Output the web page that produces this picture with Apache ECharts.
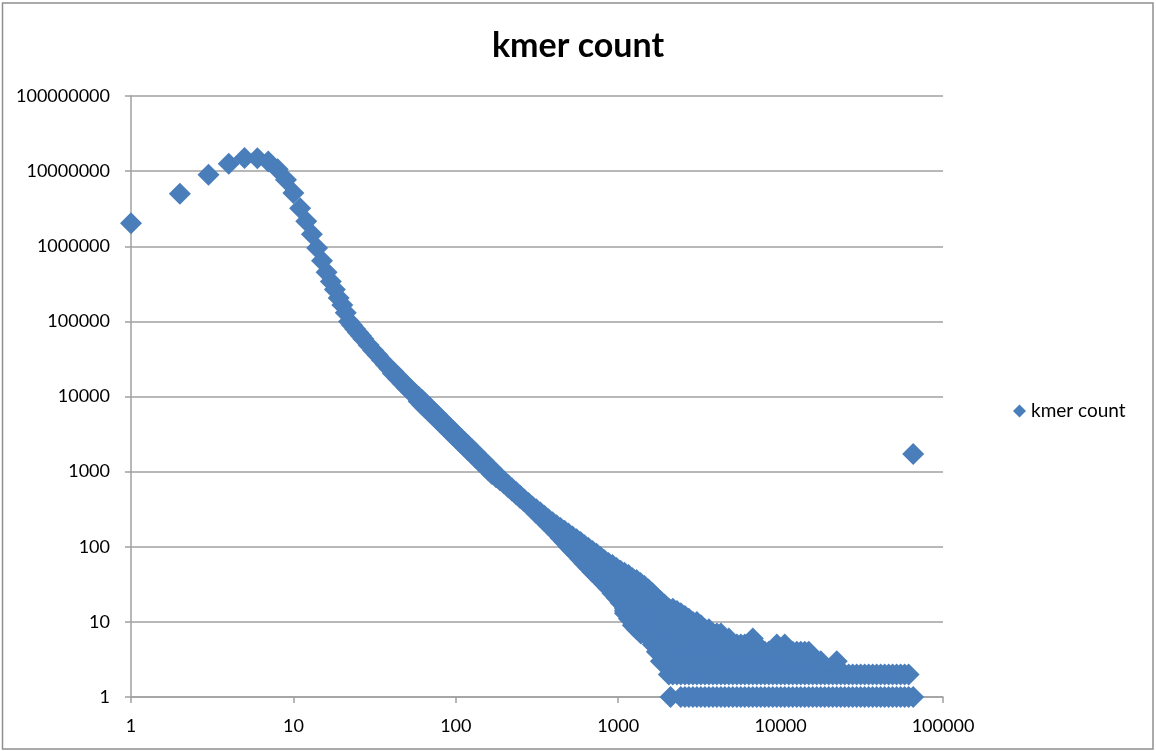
<!DOCTYPE html>
<html><head><meta charset="utf-8">
<script src="https://cdn.jsdelivr.net/npm/echarts/dist/echarts.min.js"></script>
<style>html,body{margin:0;padding:0;background:#fff}#c{width:1156px;height:751px}</style>
</head><body><div id="c"></div>
<script>
// ---- data ----
const headX = [1,2,3,4,5,6,7,8,9,10,11,12,13,14,15,16,17,18,19,20,21];
const headY = [2030000,4990000,8930000,12500000,14900000,14800000,13400000,10600000,7700000,5100000,3200000,2150000,1450000,950000,640000,450000,340000,265000,205000,165000,130000];

const bandX = [22,23,24,25,26,27,29,31,33,35,37,39,41,44,47,50,53,56,59,62,65,69,73,77,81,86,91,96,101,107,113,119,126,133,141,149,158,167,177,187,198,210,222,235,249,264,280,296,313,332,351,372,394,417,441,467,494,523,554,586,620,656,694,735,778,823,871,922,976,1033,1093,1157,1224,1296,1371,1451,1536,1625,1720,1820,1926,2038];
const bandHi = [100000,88700,79300,71200,64200,58300,48600,41100,35300,30500,26750,23600,21700,18500,15980,13950,12300,10930,9960,8950,8090,7120,6310,5630,5050,4450,3940,3510,3150,2790,2480,2220,1965,1750,1545,1370,1210,1072,947,842,745,665,597,535,479,427,382,343,315,285,258,233,212,194,178,163,150,137,126,116,105,96,88,81,73,66,61,57,52,48,45,42,38,36,33,30,27,24,21,19,17,15];
const bandLo = [100000,88700,79300,71200,64200,58300,48600,41100,35300,30500,26750,23600,20300,17300,14920,13020,11480,10200,8670,7790,7040,6190,5490,4900,4400,3870,3430,3055,2740,2425,2155,1930,1710,1520,1345,1195,1050,933,844,768,696,621,557,500,447,399,357,320,280,248,220,194,172,151,132,116,101,89,78,68,60,53,46,41,36,32,28,24,21,18,16,14,12,10,9,8,7,6,6,5,5,4];

const midX  = [554,586,620,656,694,735,778,823,871,922,976,1033,1093,1157,1224,1296,1371,1451,1536,1625,1720,1820,1926,2038];
const midHi = [107,97,87,79,71,64,58,52,47,43,39,35,32,29,26,24,21,19,17,15,14,12,11,10];
const midLo = [91,81,73,65,57,51,46,41,36,32,28,25,22,20,18,16,14,12,11,10,9,8,7,6];

// x positions used in the integer-count tail
const tailGrid = [1100,1165,1230,1300,1380,1460,1545,1635,1730,1830,1940,2050,2170,2300,2430,2575,2725,2885,3050,3230,3420,3620,3830,4050,4290,4540,4800,5080,5380,5690,6020,6370,6745,7140,7555,7995,8460,8955,9475,10030,10610,11230,11885,12580,13310,14090,14910,15780,16700,17670,18700,19790,20945,22165,23460,24825,26270,27800,29420,31135,32950,34870,36900,39050,41325,43730,46280,48975,51830,54850,58040,61420,65535];
// [count, first x, last x]
const tailRows = [[1,2430,65535],[2,2050,61420],[3,1830,17670],[4,1730,14910],[5,1635,7140],[6,1545,4800],[7,1380,4290],[8,1300,3620],[9,1230,3230],[10,1230,3050],[11,1165,2725],[12,1165,2575],[13,1100,2430],[14,1100,2300],[15,1100,2170]];
const tailExtraX = [2100,22165,9475,10610,6745,65535];
const tailExtraY = [1,3,5,5,6,1722];

const xTicks = [1,10,100,1000,10000,100000];
const yTicks = [1,10,100,1000,10000,100000,1000000,10000000,100000000];

// ---- build series data ----
const pts = [];
headX.forEach((x,i)=>pts.push([x,headY[i]]));
bandX.forEach((x,i)=>{pts.push([x,bandHi[i]]); if(bandLo[i]!==bandHi[i]) pts.push([x,bandLo[i]]);});
midX.forEach((x,i)=>{pts.push([x,midHi[i]]); pts.push([x,midLo[i]]);});
tailRows.forEach(r=>{tailGrid.forEach(x=>{ if(x>=r[1] && x<=r[2]) pts.push([x,r[0]]); });});
tailExtraX.forEach((x,i)=>pts.push([x,tailExtraY[i]]));

const gridCol = '#a0a0a0';
const fmt = v => String(Math.round(v));
const chart = echarts.init(document.getElementById('c'));
chart.setOption({
  animation:false,
  backgroundColor:'#fff',
  graphic:[{type:'rect', shape:{x:2.5,y:3,width:1150.5,height:746}, style:{fill:'none', stroke:'#8e8e8e', lineWidth:1.5}, silent:true}],
  title:{text:'kmer count', left:'center', top:24, textStyle:{fontFamily:'Lato', fontWeight:'bold', fontSize:34, color:'#000'}},
  legend:{data:[{name:'kmer count', icon:'diamond'}], left:1008, top:396, itemWidth:13, itemHeight:13, selectedMode:false,
    textStyle:{fontFamily:'Lato', fontSize:19, lineHeight:20, color:'#000'}},
  grid:{left:131, right:213, top:96, bottom:54, containLabel:false},
  xAxis:{type:'log', logBase:10, min:xTicks[0], max:xTicks[xTicks.length-1], splitNumber:5,
    axisLine:{show:true, lineStyle:{color:gridCol, width:1.5}},
    axisTick:{show:true, length:6, lineStyle:{color:gridCol, width:1.5}},
    minorTick:{show:false}, splitLine:{show:false},
    axisLabel:{margin:20, fontFamily:'Lato', fontSize:18, color:'#000', formatter:fmt}},
  yAxis:{type:'log', logBase:10, min:yTicks[0], max:yTicks[yTicks.length-1], splitNumber:8,
    axisLine:{show:true, lineStyle:{color:gridCol, width:1.5}},
    axisTick:{show:true, length:6, lineStyle:{color:gridCol, width:1.5}},
    minorTick:{show:false}, splitLine:{show:true, lineStyle:{color:gridCol, width:1.5}},
    axisLabel:{margin:21, fontFamily:'Lato', fontSize:18, color:'#000', formatter:fmt}},
  series:[{type:'scatter', name:'kmer count', symbol:'diamond', symbolSize:22, itemStyle:{color:'#4A7EBB', opacity:1}, data:pts}]
});
</script></body></html>
